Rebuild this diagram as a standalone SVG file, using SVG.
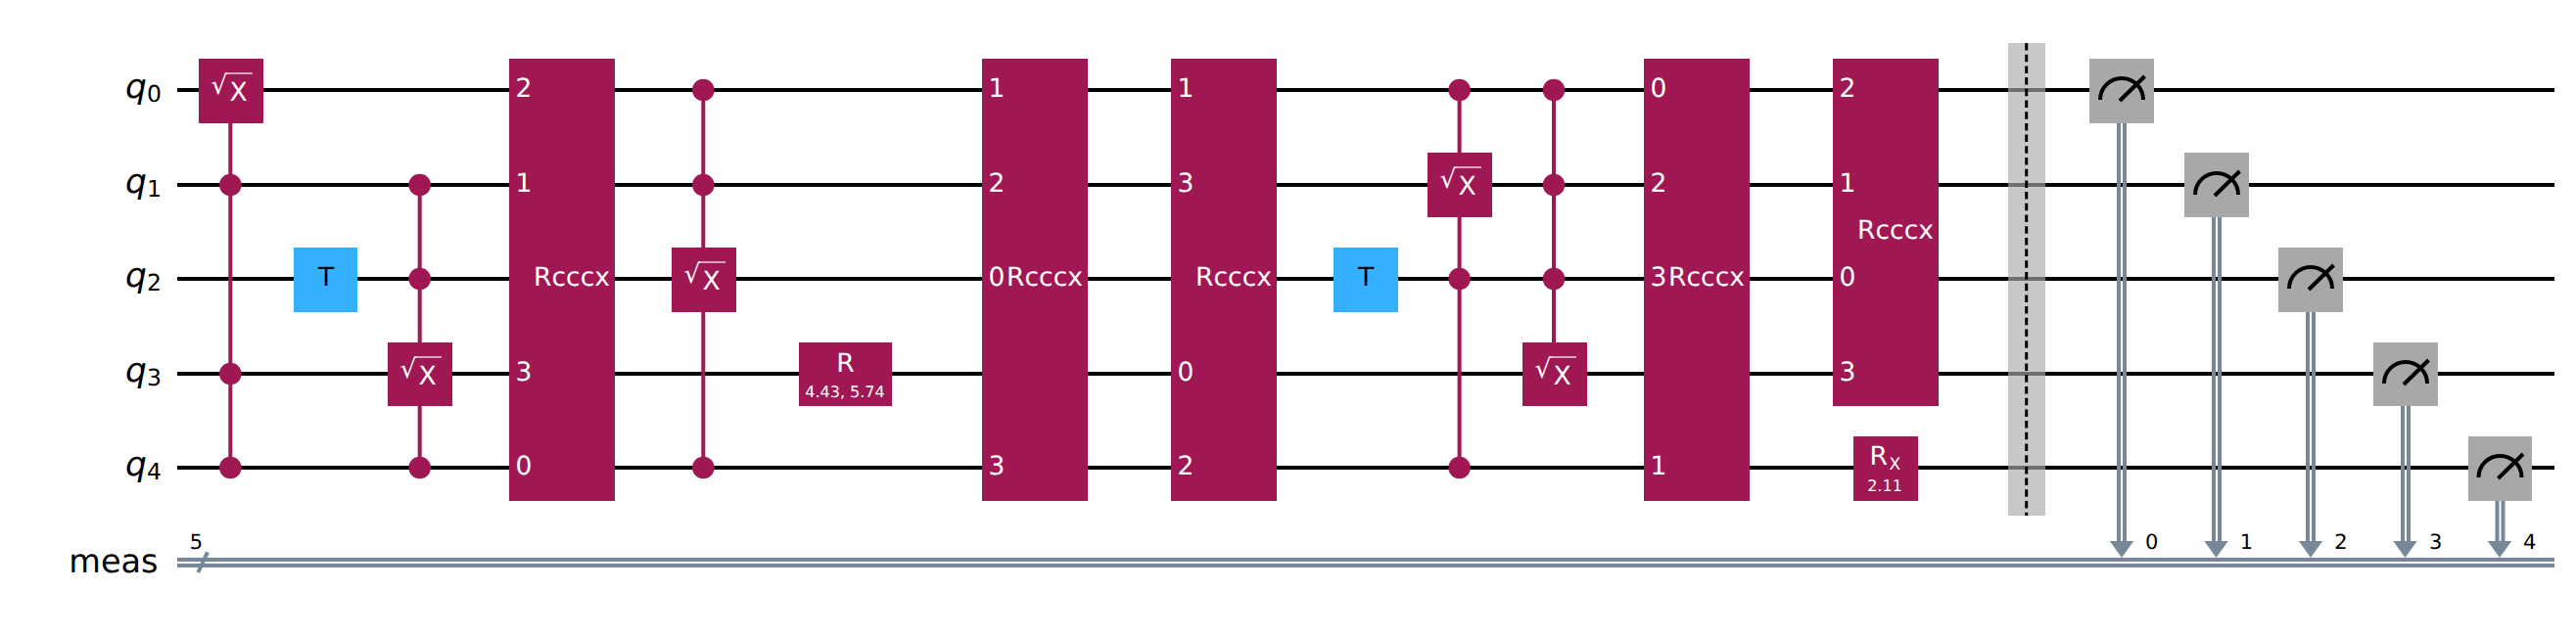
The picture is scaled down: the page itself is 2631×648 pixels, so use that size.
<svg xmlns="http://www.w3.org/2000/svg" xmlns:xlink="http://www.w3.org/1999/xlink" width="2631" height="648" viewBox="0 0 2631 648">
<style>
text{font-family:"DejaVu Sans",sans-serif;text-rendering:geometricPrecision}
.wire{stroke:#000;stroke-width:4;fill:none}
.cl{stroke:#778899;stroke-width:4;fill:none}
.ctl{stroke:#9f1853;stroke-width:4;fill:none}
.dot{fill:#9f1853}
.g{fill:#9f1853}
.t{fill:#33b1ff}
.m{fill:#a8a8a8}
.w{fill:#fff;font-size:26.5px}
.k{fill:#000;font-size:26.5px}
.mid{text-anchor:middle}
.s{fill:#fff;font-size:16px;text-anchor:middle}
.lab{font-size:33.5px;fill:#000}
.q{font-size:34.5px;font-style:italic}
.sub{font-size:23.5px}
.n{font-size:21px;fill:#000;text-anchor:middle}
.rad{stroke:#fff;stroke-width:1.2;fill:none}
.ar{fill:#778899}
</style>
<defs>
<g id="meter"><path d="M-22 10A22 22 0 0 1 22 10" fill="none" stroke="#000" stroke-width="4"/><path d="M-2 11L23.5 -14" fill="none" stroke="#000" stroke-width="4"/></g>
<g id="cdrop"><polygon class="ar" points="-12.2,553 12.2,553 0,570"/></g>
</defs>
<rect width="2631" height="648" fill="#fff"/>
<g id="connectors">
<path class="wire" d="M181 92H2609M181 189H2609M181 285H2609M181 382H2609M181 478H2609"/>
<path class="cl" d="M181 572H2609M181 578H2609M212 564.3L202.3 585"/>
<path class="ctl" d="M235.300 92V478M428.700 189V478M718.300 92V478M1490.600 92V478M1587 92V382"/>
<path class="cl" d="M2164 125V553M2170 125V553M2261 222V553M2267 222V553M2357 318V553M2363 318V553M2454 414V553M2460 414V553M2550.500 511V553M2556.500 511V553"/>
<use xlink:href="#cdrop" x="2167"/><use xlink:href="#cdrop" x="2263.500"/><use xlink:href="#cdrop" x="2360"/><use xlink:href="#cdrop" x="2456.500"/><use xlink:href="#cdrop" x="2553"/>
</g>
<g id="labels">
<text class="lab" x="128" y="99.500"><tspan class="q">q</tspan><tspan class="sub" dy="4.500">0</tspan></text>
<text class="lab" x="128" y="196.500"><tspan class="q">q</tspan><tspan class="sub" dy="4.500">1</tspan></text>
<text class="lab" x="128" y="292.500"><tspan class="q">q</tspan><tspan class="sub" dy="4.500">2</tspan></text>
<text class="lab" x="128" y="389.500"><tspan class="q">q</tspan><tspan class="sub" dy="4.500">3</tspan></text>
<text class="lab" x="128" y="485.500"><tspan class="q">q</tspan><tspan class="sub" dy="4.500">4</tspan></text>
<text class="lab" x="70.300" y="585">meas</text>
<text class="n" x="200.500" y="560.700">5</text>
<text class="n" x="2197.700" y="561">0</text><text class="n" x="2294.500" y="561">1</text><text class="n" x="2391" y="561">2</text><text class="n" x="2487.700" y="561">3</text><text class="n" x="2583.700" y="561">4</text>
</g>
<g id="dots">
<circle class="dot" cx="235.300" cy="189" r="11.300"/><circle class="dot" cx="235.300" cy="382" r="11.300"/><circle class="dot" cx="235.300" cy="478" r="11.300"/>
<circle class="dot" cx="428.700" cy="189" r="11.300"/><circle class="dot" cx="428.700" cy="285" r="11.300"/><circle class="dot" cx="428.700" cy="478" r="11.300"/>
<circle class="dot" cx="718.300" cy="92" r="11.300"/><circle class="dot" cx="718.300" cy="189" r="11.300"/><circle class="dot" cx="718.300" cy="478" r="11.300"/>
<circle class="dot" cx="1490.600" cy="92" r="11.300"/><circle class="dot" cx="1490.600" cy="285" r="11.300"/><circle class="dot" cx="1490.600" cy="478" r="11.300"/>
<circle class="dot" cx="1587" cy="92" r="11.300"/><circle class="dot" cx="1587" cy="189" r="11.300"/><circle class="dot" cx="1587" cy="285" r="11.300"/>
</g>
<g id="sx1"><rect class="g" x="203" y="60" width="66" height="66"/><text class="w" x="215.500" y="95.800">√<tspan x="234.600" y="103.300">X</tspan></text><path class="rad" d="M230.500 75H258"/></g>
<g id="t1"><rect class="t" x="300" y="253" width="65" height="66"/><text class="k mid" x="333" y="292">T</text></g>
<g id="sx2"><rect class="g" x="396" y="350" width="66" height="65"/><text class="w" x="408.500" y="385.800">√<tspan x="427.600" y="393.300">X</tspan></text><path class="rad" d="M423.500 365H451"/></g>
<g id="rcccx1"><rect class="g" x="520" y="60" width="108" height="452"/><text class="w" x="526.500" y="98.500">2</text><text class="w" x="526.500" y="195.500">1</text><text class="w" x="526.500" y="388.500">3</text><text class="w" x="526.500" y="484.500">0</text><text class="w mid" x="584" y="292">Rcccx</text></g>
<g id="sx3"><rect class="g" x="686" y="253" width="66" height="66"/><text class="w" x="698.500" y="288.800">√<tspan x="717.600" y="296.300">X</tspan></text><path class="rad" d="M713.500 268H741"/></g>
<g id="r1"><rect class="g" x="816" y="350" width="95" height="65"/><text class="w mid" x="863.500" y="379.500">R</text><text class="s" x="863" y="406">4.43, 5.74</text></g>
<g id="rcccx2"><rect class="g" x="1003" y="60" width="108" height="452"/><text class="w" x="1009.500" y="98.500">1</text><text class="w" x="1009.500" y="195.500">2</text><text class="w" x="1009.500" y="291.500">0</text><text class="w" x="1009.500" y="484.500">3</text><text class="w mid" x="1067" y="292">Rcccx</text></g>
<g id="rcccx3"><rect class="g" x="1196" y="60" width="108" height="452"/><text class="w" x="1202.500" y="98.500">1</text><text class="w" x="1202.500" y="195.500">3</text><text class="w" x="1202.500" y="388.500">0</text><text class="w" x="1202.500" y="484.500">2</text><text class="w mid" x="1260" y="292">Rcccx</text></g>
<g id="t2"><rect class="t" x="1362" y="253" width="66" height="66"/><text class="k mid" x="1395" y="292">T</text></g>
<g id="sx4"><rect class="g" x="1458" y="156" width="66" height="66"/><text class="w" x="1470.500" y="191.800">√<tspan x="1489.600" y="199.300">X</tspan></text><path class="rad" d="M1485.500 171H1513"/></g>
<g id="sx5"><rect class="g" x="1555" y="350" width="66" height="65"/><text class="w" x="1567.500" y="385.800">√<tspan x="1586.600" y="393.300">X</tspan></text><path class="rad" d="M1582.500 365H1610"/></g>
<g id="rcccx4"><rect class="g" x="1679" y="60" width="108" height="452"/><text class="w" x="1685.500" y="98.500">0</text><text class="w" x="1685.500" y="195.500">2</text><text class="w" x="1685.500" y="291.500">3</text><text class="w" x="1685.500" y="484.500">1</text><text class="w mid" x="1743" y="292">Rcccx</text></g>
<g id="rcccx5"><rect class="g" x="1872" y="60" width="108" height="355"/><text class="w" x="1878.500" y="98.500">2</text><text class="w" x="1878.500" y="195.500">1</text><text class="w" x="1878.500" y="291.500">0</text><text class="w" x="1878.500" y="388.500">3</text><text class="w mid" x="1936" y="244">Rcccx</text></g>
<g id="rx1"><rect class="g" x="1893" y="446" width="66" height="66"/><text class="w" x="1909.500" y="475">R<tspan font-size="17" x="1929.500" y="480">X</tspan></text><text class="s" x="1925" y="502">2.11</text></g>
<g id="barrier"><rect x="2051" y="44" width="38" height="483" fill="#ababab" fill-opacity="0.65"/><path d="M2069.700 44V527" stroke="#000" stroke-width="3" stroke-dasharray="7.500 4.200" fill="none"/></g>
<g id="m0"><rect class="m" x="2134" y="60" width="66" height="66"/><use xlink:href="#meter" x="2167" y="92"/></g>
<g id="m1"><rect class="m" x="2231" y="156" width="66" height="66"/><use xlink:href="#meter" x="2264" y="189"/></g>
<g id="m2"><rect class="m" x="2327" y="253" width="66" height="66"/><use xlink:href="#meter" x="2360" y="285"/></g>
<g id="m3"><rect class="m" x="2424" y="350" width="66" height="65"/><use xlink:href="#meter" x="2457" y="382"/></g>
<g id="m4"><rect class="m" x="2521" y="446" width="65" height="66"/><use xlink:href="#meter" x="2553.500" y="478"/></g>
</svg>
